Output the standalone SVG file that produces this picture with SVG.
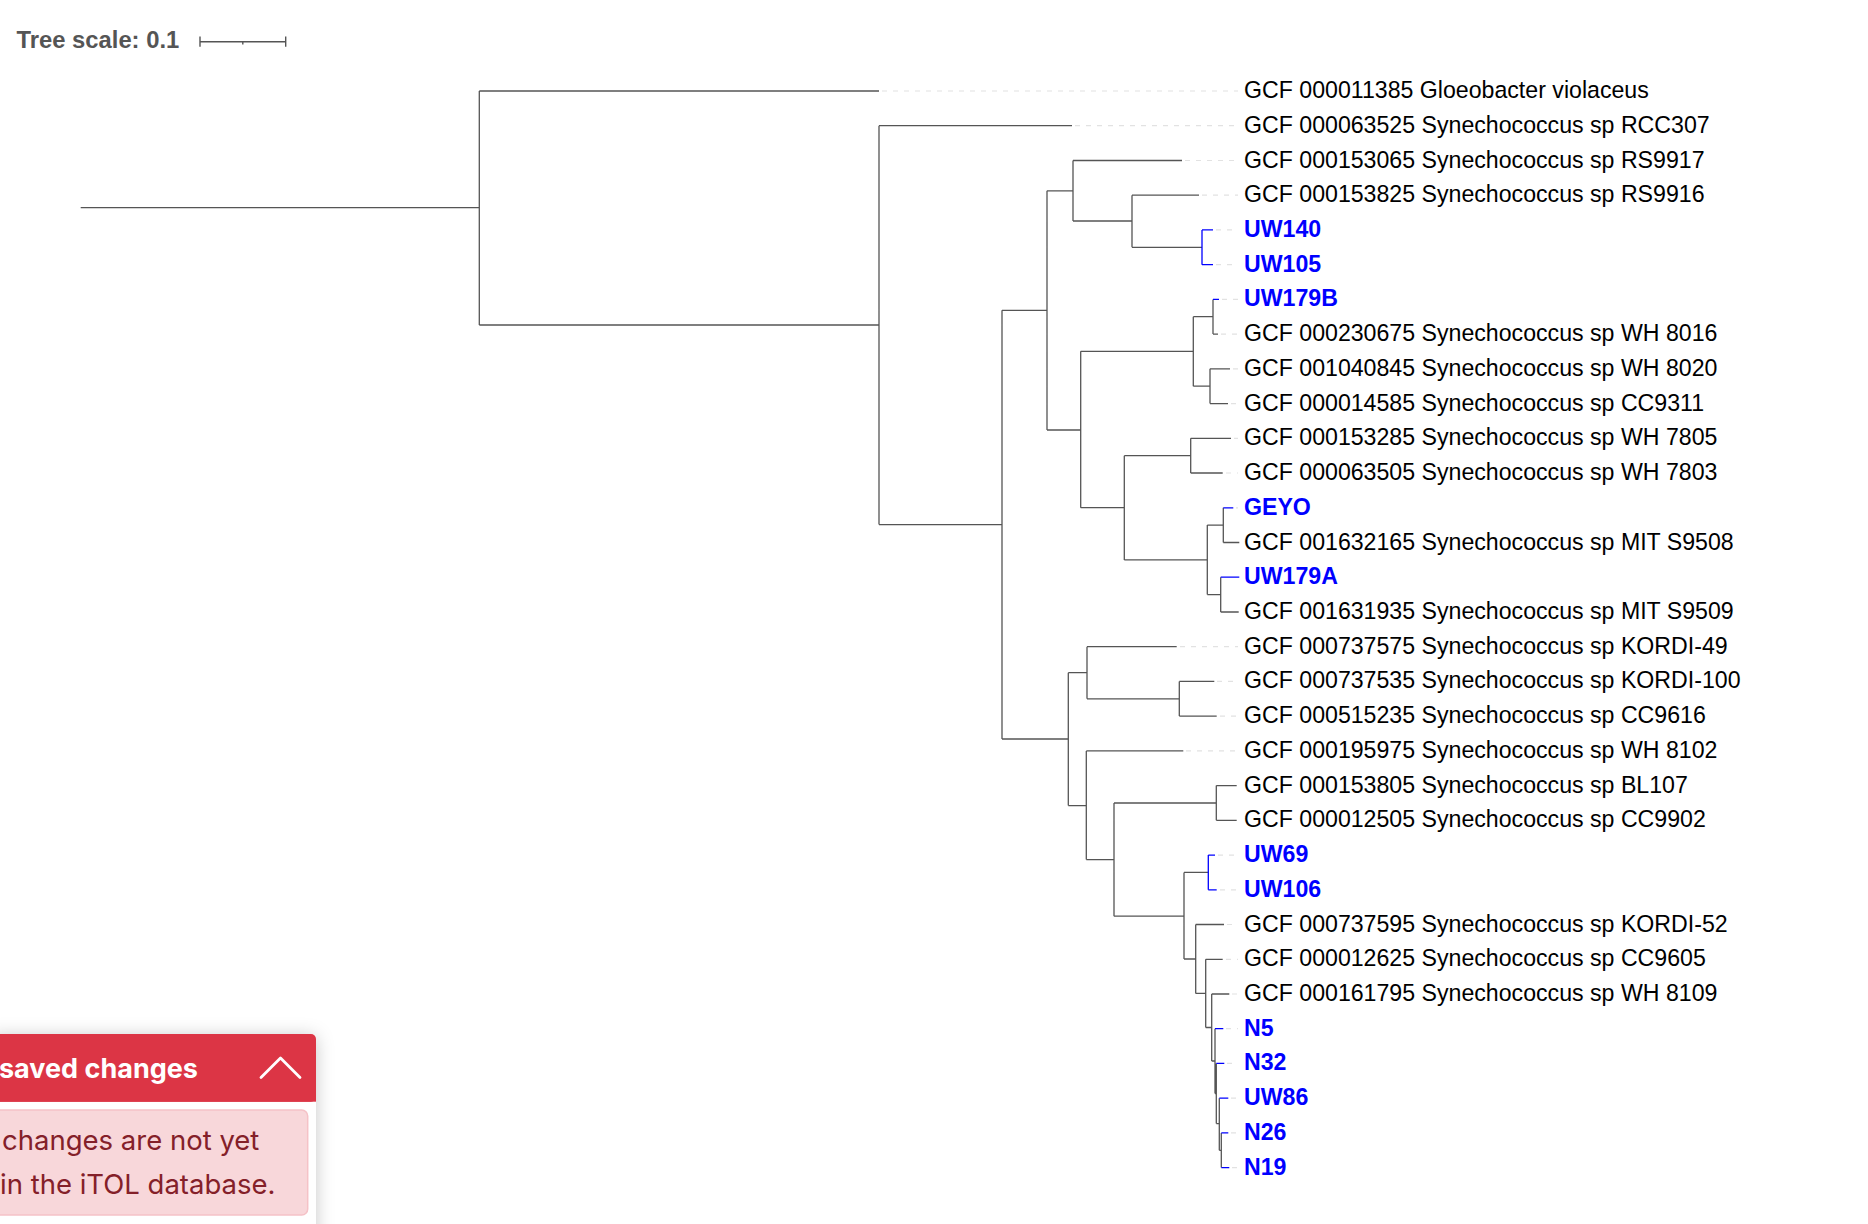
<svg xmlns="http://www.w3.org/2000/svg" width="1868" height="1224" viewBox="0 0 1868 1224">
<style>
.br{stroke:#555;stroke-width:1.3;fill:none}
.bb{stroke:#0000ff;stroke-width:1.3;fill:none}
.ld{stroke:#e2e2e2;stroke-width:1.2;stroke-dasharray:5 6;fill:none}
.lb{font-family:"Liberation Sans",Arial,sans-serif;font-size:23.15px;fill:#000}
.lbb{font-family:"Liberation Sans",Arial,sans-serif;font-size:23.15px;font-weight:bold;fill:#0000ff}
.sc{stroke:#555;stroke-width:1.4;fill:none}
</style>
<defs>
<filter id="sh" x="-20%" y="-20%" width="140%" height="140%">
<feDropShadow dx="0" dy="2" stdDeviation="9" flood-color="#000" flood-opacity="0.22"/>
</filter>
</defs>
<rect width="1868" height="1224" fill="#fff"/>
<g id="tree-scale">
<text x="16.5" y="48.3" font-family="Liberation Sans, Arial, sans-serif" font-size="23.8" font-weight="bold" fill="#555">Tree scale: 0.1</text>
<path class="sc" d="M200 41.7 H285.7 M200 36.5 V46.8 M285.7 36.5 V46.8 M242.8 41.7 V44.6"/>
</g>
<g id="connectors">
<path class="br" d="M80.7 207.7 H479.3 M479.3 91 V325 M479.3 91 H879 M479.3 325 H879
M879 125.7 V524.6 M879 125.7 H1072 M879 524.6 H1002
M1002 310.3 V739 M1002 310.3 H1047
M1047 190.8 V430 M1047 190.8 H1073
M1073 160.5 V221 M1073 160.5 H1182 M1073 221 H1132
M1132 195.2 V247.3 M1132 195.2 H1199 M1132 247.3 H1202
M1047 430 H1080.7 M1080.7 351.3 V507.7 M1080.7 351.3 H1193.3
M1193.3 316.7 V386.2 M1193.3 316.7 H1213 M1213 299.4 V334.1 M1213 334.1 H1218
M1193.3 386.2 H1210 M1210 368.8 V403.6 M1210 368.8 H1230 M1210 403.6 H1228
M1080.7 507.7 H1124.3 M1124.3 455.7 V559.9 M1124.3 455.7 H1190.7
M1190.7 438.3 V473 M1190.7 438.3 H1231 M1190.7 473 H1222.7
M1124.3 559.9 H1207.3 M1207.3 525.1 V594.6 M1207.3 525.1 H1223.3
M1223.3 507.8 V542.5 M1223.3 542.5 H1239.3
M1207.3 594.6 H1220.7 M1220.7 577.2 V612 M1220.7 612 H1238.7
M1002 739 H1068.3 M1068.3 672.7 V805.6 M1068.3 672.7 H1087
M1087 646.7 V698.8 M1087 646.7 H1176.7 M1087 698.8 H1179.3
M1179.3 681.4 V716.1 M1179.3 681.4 H1214.3 M1179.3 716.1 H1216.7
M1068.3 805.6 H1086.3 M1086.3 750.9 V859.6 M1086.3 750.9 H1183.3 M1086.3 859.6 H1114
M1114 803 V916.2 M1114 803 H1216.3 M1216.3 785.6 V820.3 M1216.3 785.6 H1236.7 M1216.3 820.3 H1236.7
M1114 916.2 H1184 M1184 872.4 V959 M1184 872.4 H1208.3
M1184 959 H1195.7 M1195.7 924.5 V993.4 M1195.7 924.5 H1224 M1195.7 993.4 H1205.7
M1205.7 959.3 V1027.5 M1205.7 959.3 H1222.7 M1205.7 1027.5 H1211.7
M1211.7 994 V1061 M1211.7 994 H1229.3 M1211.7 1061 H1215
M1215 1028.7 V1093.5 M1215 1093.5 H1216.3
M1216.3 1063.4 V1123.6 M1216.3 1123.6 H1219.3
M1219.3 1098.2 V1150.3 M1219.3 1150.3 H1221.3
M1221.3 1132.9 V1167.6"/>
<path class="bb" d="M1202 229.9 V264.7 M1202 229.9 H1213 M1202 264.7 H1213
M1213 299.4 H1219
M1223.3 507.8 H1233.3
M1220.7 577.2 H1239.3
M1208.3 855.1 V889.8 M1208.3 855.1 H1215 M1208.3 889.8 H1216.7
M1215 1028.7 H1223.3
M1216.3 1063.4 H1224.3
M1219.3 1098.2 H1228.3
M1221.3 1132.9 H1228.3 M1221.3 1167.6 H1229.3"/>
<path class="ld" d="M882 91 H1238 M1075 125.7 H1238 M1185 160.5 H1238 M1202 195.2 H1238
M1216 229.9 H1238 M1216 264.7 H1238 M1222 299.4 H1238 M1221 334.1 H1238
M1233 368.8 H1238 M1231 403.6 H1238 M1234 438.3 H1238 M1226 473 H1238 M1236 507.8 H1238
M1180 646.7 H1238 M1217 681.4 H1238 M1220 716.1 H1238 M1186 750.9 H1238
M1218 855.1 H1238 M1220 889.8 H1238 M1227 924.5 H1238 M1226 959.3 H1238 M1232 994 H1238
M1226 1028.7 H1238 M1227 1063.4 H1238 M1231 1098.2 H1238 M1231 1132.9 H1238 M1232 1167.6 H1238"/>
</g>
<g id="leaf-01"><text class="lb" x="1244" y="98">GCF 000011385 Gloeobacter violaceus</text></g>
<g id="leaf-02"><text class="lb" x="1244" y="132.7">GCF 000063525 Synechococcus sp RCC307</text></g>
<g id="leaf-03"><text class="lb" x="1244" y="167.5">GCF 000153065 Synechococcus sp RS9917</text></g>
<g id="leaf-04"><text class="lb" x="1244" y="202.2">GCF 000153825 Synechococcus sp RS9916</text></g>
<g id="leaf-05"><text class="lbb" x="1244" y="236.9">UW140</text></g>
<g id="leaf-06"><text class="lbb" x="1244" y="271.7">UW105</text></g>
<g id="leaf-07"><text class="lbb" x="1244" y="306.4">UW179B</text></g>
<g id="leaf-08"><text class="lb" x="1244" y="341.1">GCF 000230675 Synechococcus sp WH 8016</text></g>
<g id="leaf-09"><text class="lb" x="1244" y="375.8">GCF 001040845 Synechococcus sp WH 8020</text></g>
<g id="leaf-10"><text class="lb" x="1244" y="410.6">GCF 000014585 Synechococcus sp CC9311</text></g>
<g id="leaf-11"><text class="lb" x="1244" y="445.3">GCF 000153285 Synechococcus sp WH 7805</text></g>
<g id="leaf-12"><text class="lb" x="1244" y="480">GCF 000063505 Synechococcus sp WH 7803</text></g>
<g id="leaf-13"><text class="lbb" x="1244" y="514.8">GEYO</text></g>
<g id="leaf-14"><text class="lb" x="1244" y="549.5">GCF 001632165 Synechococcus sp MIT S9508</text></g>
<g id="leaf-15"><text class="lbb" x="1244" y="584.2">UW179A</text></g>
<g id="leaf-16"><text class="lb" x="1244" y="619">GCF 001631935 Synechococcus sp MIT S9509</text></g>
<g id="leaf-17"><text class="lb" x="1244" y="653.7">GCF 000737575 Synechococcus sp KORDI-49</text></g>
<g id="leaf-18"><text class="lb" x="1244" y="688.4">GCF 000737535 Synechococcus sp KORDI-100</text></g>
<g id="leaf-19"><text class="lb" x="1244" y="723.1">GCF 000515235 Synechococcus sp CC9616</text></g>
<g id="leaf-20"><text class="lb" x="1244" y="757.9">GCF 000195975 Synechococcus sp WH 8102</text></g>
<g id="leaf-21"><text class="lb" x="1244" y="792.6">GCF 000153805 Synechococcus sp BL107</text></g>
<g id="leaf-22"><text class="lb" x="1244" y="827.3">GCF 000012505 Synechococcus sp CC9902</text></g>
<g id="leaf-23"><text class="lbb" x="1244" y="862.1">UW69</text></g>
<g id="leaf-24"><text class="lbb" x="1244" y="896.8">UW106</text></g>
<g id="leaf-25"><text class="lb" x="1244" y="931.5">GCF 000737595 Synechococcus sp KORDI-52</text></g>
<g id="leaf-26"><text class="lb" x="1244" y="966.3">GCF 000012625 Synechococcus sp CC9605</text></g>
<g id="leaf-27"><text class="lb" x="1244" y="1001">GCF 000161795 Synechococcus sp WH 8109</text></g>
<g id="leaf-28"><text class="lbb" x="1244" y="1035.7">N5</text></g>
<g id="leaf-29"><text class="lbb" x="1244" y="1070.4">N32</text></g>
<g id="leaf-30"><text class="lbb" x="1244" y="1105.2">UW86</text></g>
<g id="leaf-31"><text class="lbb" x="1244" y="1139.9">N26</text></g>
<g id="leaf-32"><text class="lbb" x="1244" y="1174.6">N19</text></g>
<g id="unsaved-popup">
<rect x="-10" y="1034" width="326" height="210" rx="5" fill="#fff" filter="url(#sh)"/>
<rect x="-10" y="1034" width="326" height="67.7" rx="5" fill="#dc3545"/>
<rect x="-10" y="1080" width="326" height="21.7" fill="#dc3545"/>
<text x="-1" y="1078.3" font-family="Inter, 'Liberation Sans', sans-serif" font-size="27" font-weight="bold" fill="#fff">saved changes</text>
<polyline points="261,1077.5 280.5,1058 300,1077.5" fill="none" stroke="#fff" stroke-width="2.8" stroke-linecap="round" stroke-linejoin="round"/>
<rect x="-10" y="1110" width="317.7" height="105" rx="6" fill="#f8d7da" stroke="#f5c2c7" stroke-width="1.5"/>
<text x="2" y="1150" font-family="Inter, 'Liberation Sans', sans-serif" font-size="27.5" fill="#842029">changes are not yet</text>
<text x="0" y="1194" font-family="Inter, 'Liberation Sans', sans-serif" font-size="27.5" fill="#842029">in the iTOL database.</text>
</g>
</svg>
